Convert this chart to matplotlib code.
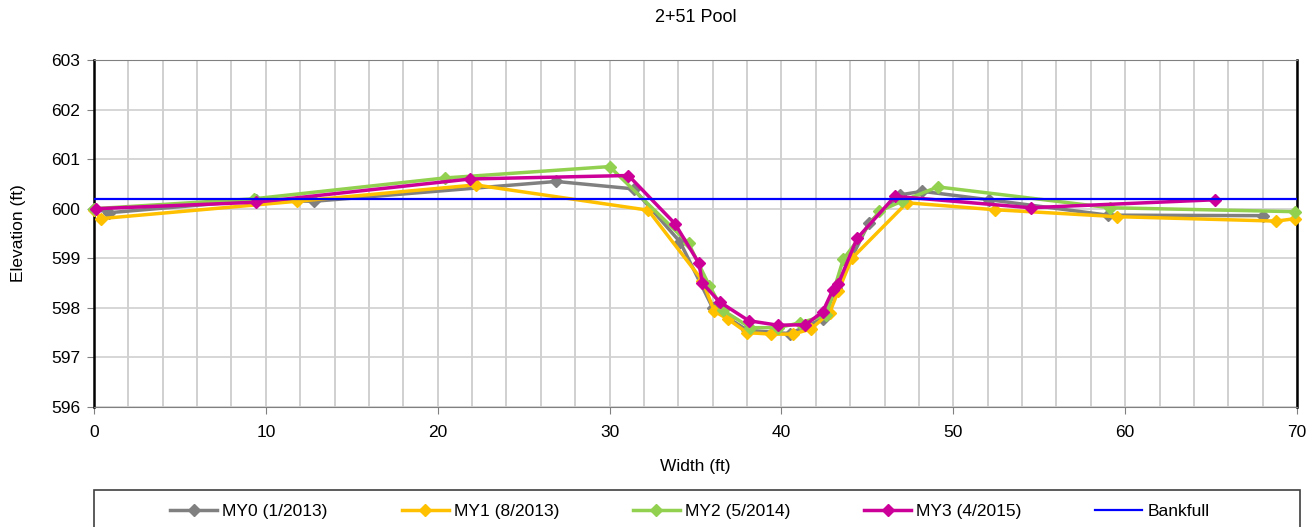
import matplotlib
matplotlib.use("Agg")
import matplotlib.pyplot as plt
from matplotlib.ticker import MultipleLocator
from matplotlib.patches import Rectangle

plt.rcParams['font.family'] = ['Liberation Sans', 'DejaVu Sans']

title = "2+51 Pool"
xlabel = "Width (ft)"
ylabel = "Elevation (ft)"

my0_x = [0.0, 0.9, 9.4, 12.8, 26.9, 31.4, 34.1, 36.0, 38.0, 40.5, 42.4, 43.2, 45.1, 46.9, 48.2, 52.1, 59.0, 68.0]
my0_y = [600.0, 599.92, 600.17, 600.15, 600.55, 600.4, 599.33, 598.0, 597.55, 597.48, 597.78, 598.4, 599.72, 600.28, 600.35, 600.18, 599.87, 599.86]

my1_x = [0.0, 0.4, 11.8, 22.2, 32.25, 35.4, 36.1, 36.9, 38.0, 39.4, 40.65, 41.7, 42.8, 43.3, 44.1, 47.3, 52.4, 59.5, 68.8, 69.9]
my1_y = [599.97, 599.8, 600.15, 600.48, 599.97, 598.55, 597.93, 597.77, 597.5, 597.47, 597.47, 597.57, 597.9, 598.33, 599.0, 600.12, 599.98, 599.84, 599.75, 599.8]

my2_x = [0.0, 9.3, 20.4, 30.0, 34.6, 35.8, 36.6, 38.2, 39.8, 41.1, 42.6, 43.6, 45.7, 47.0, 49.1, 59.1, 69.9]
my2_y = [600.0, 600.2, 600.62, 600.85, 599.3, 598.45, 597.95, 597.6, 597.6, 597.7, 597.85, 598.98, 599.95, 600.15, 600.44, 600.02, 599.94]

my3_x = [0.1, 9.4, 21.9, 31.1, 33.8, 35.2, 35.4, 36.4, 38.1, 39.8, 41.4, 42.4, 43.0, 43.3, 44.4, 46.6, 54.5, 65.2]
my3_y = [600.0, 600.13, 600.6, 600.67, 599.7, 598.9, 598.5, 598.12, 597.74, 597.65, 597.66, 597.92, 598.37, 598.48, 599.4, 600.25, 600.02, 600.18]

bankfull_x = [0, 70]
bankfull_y = [600.2, 600.2]

series = [
    ("MY0 (1/2013)", my0_x, my0_y, "#808080"),
    ("MY1 (8/2013)", my1_x, my1_y, "#FFC000"),
    ("MY2 (5/2014)", my2_x, my2_y, "#92D050"),
    ("MY3 (4/2015)", my3_x, my3_y, "#CC0099"),
]

W, H = 1314, 527
fig = plt.figure(figsize=(W/100, H/100), dpi=100)
ax = fig.add_axes([94/W, 1-407/H, (1297-94)/W, (407-60)/H])

for label, xs, ys, c in series:
    ax.plot(xs, ys, color=c, lw=2.5, marker='D', ms=6, mec=c, mfc=c,
            label=label, clip_on=False, zorder=3)
ax.plot(bankfull_x, bankfull_y, color='#0000FF', lw=1.6, label='Bankfull', zorder=4)

ax.set_xlim(0, 70)
ax.set_ylim(596, 603)
ax.xaxis.set_major_locator(MultipleLocator(10))
ax.xaxis.set_minor_locator(MultipleLocator(2))
ax.yaxis.set_major_locator(MultipleLocator(1))
ax.grid(True, which='both', axis='x', color='#C8C8C8', lw=1.2)
ax.grid(True, which='major', axis='y', color='#D0D0D0', lw=1.2)
ax.set_axisbelow(True)
ax.tick_params(axis='both', which='major', labelsize=12.5, length=5, direction='out', color='#808080')
ax.tick_params(axis='x', which='major', pad=8)
ax.tick_params(axis='y', which='major', pad=5)
ax.tick_params(axis='x', which='minor', length=0)
ax.yaxis.set_major_formatter(matplotlib.ticker.FormatStrFormatter('%d'))

for s in ['left', 'right']:
    ax.spines[s].set_color('black')
    ax.spines[s].set_linewidth(1.8)
ax.spines['bottom'].set_color('#808080')
ax.spines['top'].set_color('#808080')

ax.set_xlabel(xlabel, fontsize=12.5, labelpad=14)
ax.set_ylabel(ylabel, fontsize=12.5, labelpad=18)
fig.text(0.5*(94+1297)/W, 1-18/H, title, ha='center', va='center', fontsize=13)

# legend box
fig.add_artist(Rectangle((94/W, -0.05), (1300-94)/W, 1-490/H+0.05, transform=fig.transFigure,
                         fill=False, edgecolor='#404040', lw=1.2))
leg = fig.legend(loc='center', bbox_to_anchor=(690/W, 1-511/H),
                 ncol=5, fontsize=12.5, frameon=False,
                 handlelength=2.7, handletextpad=0.3, columnspacing=4.25)

fig.savefig("out.png", dpi=100)
